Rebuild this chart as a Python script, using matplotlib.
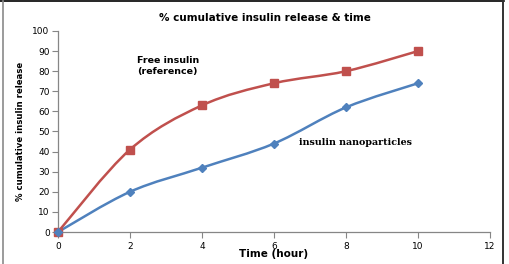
import numpy as np
import matplotlib
matplotlib.use('Agg')
import matplotlib.pyplot as plt
from matplotlib.path import Path
from matplotlib.patches import PathPatch

time_hours = [0, 2, 4, 6, 8, 10]
free_insulin = [0, 41, 63, 74, 80, 90]
nanoparticles = [0, 20, 32, 44, 62, 74]
x_ticks = [0, 2, 4, 6, 8, 10, 12]
y_ticks = [0, 10, 20, 30, 40, 50, 60, 70, 80, 90, 100]

RED = '#C0504D'
BLUE = '#4F81BD'
AXIS = '#868686'


def smooth_path(xs, ys):
    # excel style smoothed line: cubic bezier through the points
    pts = np.column_stack([xs, ys]).astype(float)
    ext = np.vstack([pts[0], pts, pts[-1]])
    verts = [pts[0]]
    codes = [Path.MOVETO]
    for i in range(len(pts) - 1):
        p0, p1, p2, p3 = ext[i], ext[i + 1], ext[i + 2], ext[i + 3]
        c1 = p1 + (p2 - p0) / 6.0
        c2 = p2 - (p3 - p1) / 6.0
        verts += [c1, c2, p2]
        codes += [Path.CURVE4] * 3
    return Path(verts, codes)


fig = plt.figure(figsize=(5.1, 2.64), dpi=100)
ax = fig.add_axes([0.1137, 0.1212, 0.847, 0.7614])

for ys, col, mk, ms in [(free_insulin, RED, 's', 5.8), (nanoparticles, BLUE, 'D', 3.8)]:
    ax.add_patch(PathPatch(smooth_path(time_hours, ys), facecolor='none',
                           edgecolor=col, lw=1.8, zorder=2))
    ax.plot(time_hours, ys, linestyle='none', marker=mk, markersize=ms,
            color=col, zorder=3, clip_on=False)

ax.set_xlim(0, 12)
ax.set_ylim(0, 100)
ax.set_xticks(x_ticks)
ax.set_yticks(y_ticks)
ax.tick_params(axis='both', labelsize=6.5, color=AXIS, length=4, width=0.8,
               pad=2, labelcolor='black')
ax.tick_params(axis='x', pad=3)
ax.spines['top'].set_visible(False)
ax.spines['right'].set_visible(False)
for s in ['left', 'bottom']:
    ax.spines[s].set_color(AXIS)
    ax.spines[s].set_linewidth(0.9)
ax.patch.set_visible(False)

fig.text(0.52, 0.93, '% cumulative insulin release & time', ha='center',
         va='center', fontsize=7.5, fontweight='bold')
ax.set_xlabel('Time (hour)', fontsize=7.5, fontweight='bold', labelpad=-1)
ax.set_ylabel('% cumulative insulin release', fontsize=6.8,
              fontweight='bold', labelpad=5, fontstretch='condensed')

ax.text(2.2, 82.5, 'Free insulin\n(reference)', fontsize=6.8, fontweight='bold',
        va='center', ha='left', linespacing=1.2)
ax.text(6.7, 44.5, 'insulin nanoparticles', fontsize=6.8, fontweight='bold',
        family='DejaVu Serif', va='center', ha='left')

# frame around the chart area
fig.add_artist(plt.Line2D([0, 0.988], [0.996, 0.996], color='black', lw=1.2,
                          transform=fig.transFigure))
fig.add_artist(plt.Line2D([0.005, 0.005], [0, 0.996], color='#8a8a8a', lw=1.2,
                          transform=fig.transFigure))
fig.add_artist(plt.Line2D([0.986, 0.986], [0, 0.996], color='#333333', lw=1.4,
                          transform=fig.transFigure))

fig.savefig('out.png', dpi=100)
